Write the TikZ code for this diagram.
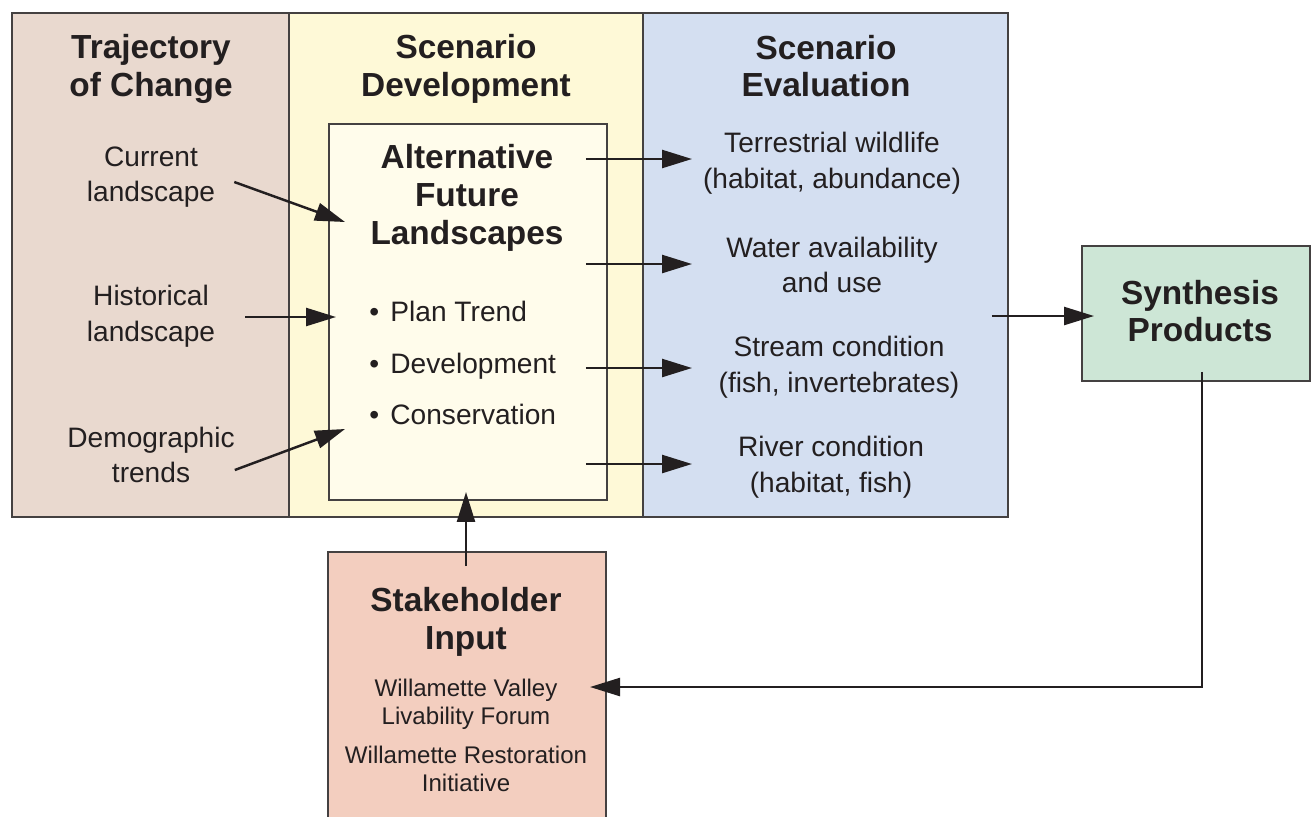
\documentclass[tikz,border=0pt]{standalone}
\usepackage{fontspec}
\setmainfont{Liberation Sans}
\usetikzlibrary{arrows.meta, positioning, calc}
\definecolor{inkgray}{HTML}{231F20}
\definecolor{trajfill}{HTML}{E9D9CF}
\definecolor{devfill}{HTML}{FEF9D7}
\definecolor{altfill}{HTML}{FFFCEB}
\definecolor{evalfill}{HTML}{D4DFF1}
\definecolor{synthfill}{HTML}{CDE6D6}
\definecolor{stakefill}{HTML}{F3CEBF}
\tikzset{
    panel/.style={rectangle, draw=inkgray!85, line width=0.8pt, inner sep=0pt, outer sep=0pt},
    headtext/.style={font=\fontsize{19}{21.5}\selectfont\bfseries, align=center, text=inkgray},
    itemtext/.style={font=\fontsize{16}{20.3}\selectfont, align=center, text=inkgray},
    smalltext/.style={font=\fontsize{13.7}{16}\selectfont, align=center, text=inkgray},
    arrow/.style={-{Triangle[length=6mm,width=3.6mm]}, line width=1.4pt, inkgray},
}

\begin{document}
\begin{tikzpicture}[
  x=0.02cm, y=-0.02cm,
  bullet/.style={itemtext, anchor=west, inner sep=0pt}
]
\useasboundingbox (0,0) rectangle (1311,816);

% Columns
\node[panel,fill=trajfill,minimum width=5.54cm,minimum height=10.08cm] (traj) at (150.5,265) {};
\node[panel,fill=devfill,minimum width=7.08cm,minimum height=10.08cm] (dev) at (466,265) {};
\node[panel,fill=evalfill,minimum width=7.3cm,minimum height=10.08cm] (eval) at (825.5,265) {};

\node[headtext] (trajhead) at (151,69) {Trajectory\\of Change};
\node[headtext] (devhead) at (466,69) {Scenario\\Development};
\node[headtext] (evalhead) at (826,66) {Scenario\\Evaluation};

% Left column - inputs
\node[itemtext] (current) at (151,177) {Current\\landscape};
\node[itemtext] (historical) at (151,316) {Historical\\landscape};
\node[itemtext] (demo) at (151,455) {Demographic\\trends};

% Middle column - Alternative futures
\node[panel,fill=altfill,minimum width=5.56cm,minimum height=7.52cm] (alt) at (468,312) {};
\node[headtext] (althead) at (467,198) {Alternative\\Future\\Landscapes};
\node[bullet] (plan) at (369,311) {\textbullet\hspace{0.4em}Plan Trend};
\node[bullet] (devel) at (369,366) {\textbullet\hspace{0.4em}Development};
\node[bullet] (conserv) at (369,414) {\textbullet\hspace{0.4em}Conservation};

% Right column - evaluation
\node[itemtext] (terr) at (832,163) {Terrestrial wildlife\\(habitat, abundance)};
\node[itemtext] (water) at (832,265) {Water availability\\and use};
\node[itemtext] (stream) at (839,367) {Stream condition\\(fish, invertebrates)};
\node[itemtext] (river) at (831,467) {River condition\\(habitat, fish)};

% Synthesis and stakeholders
\node[panel,fill=synthfill,minimum width=4.56cm,minimum height=2.7cm] (synth) at (1196,313.5) {};
\node[headtext] (synthhead) at (1200,311) {Synthesis\\Products};
\node[panel,fill=stakefill,minimum width=5.56cm,minimum height=5.76cm] (stake) at (467,696) {};
\node[headtext] (stakehead) at (466,622) {Stakeholder\\Input};
\node[smalltext] (forum) at (466,704) {Willamette Valley\\Livability Forum};
\node[smalltext] (wri) at (466,769) {Willamette Restoration\\Initiative};

% Arrows
\coordinate (in1) at (345,222);
\coordinate (in2) at (336,317);
\coordinate (in3) at (345,429);
\coordinate (evalin) at (692,0);
\coordinate (fb) at (590,687);
\draw[arrow] ($(current.east)+(13,5)$) -- (in1);
\draw[arrow] ($(historical.east)+(24,1)$) -- (in2);
\draw[arrow] ($(demo.east)+(-6,15)$) -- (in3);
\foreach \n/\dy in {terr/-4, water/-1, stream/1, river/-3}
  \draw[arrow] ($(alt.east|-\n)+(-21,\dy)$) -- ($(evalin|-\n)+(0,\dy)$);
\draw[arrow] ($(eval.east|-synth)+(-16,2.5)$) -- ($(synth.west)+(12,2.5)$);
\draw[arrow] ($(stake.north)+(-1,14)$) -- ($(alt.south)+(-2,-8)$);
\draw[arrow] ($(synth.south)+(6,-9)$) |- (fb);
\end{tikzpicture}
\end{document}
